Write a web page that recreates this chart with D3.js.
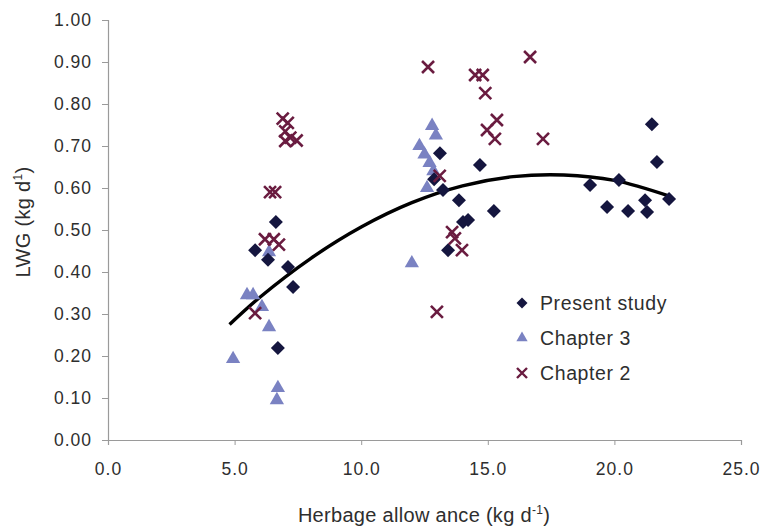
<!DOCTYPE html>
<html><head><meta charset="utf-8">
<script src="https://cdn.jsdelivr.net/npm/d3@7"></script>
<style>
html,body{margin:0;padding:0;background:#fff;}
svg{display:block;font-family:"Liberation Sans",Arial,Helvetica,sans-serif;}
</style></head>
<body>
<svg id="c" width="763" height="528"></svg>
<script>
// Present study (diamonds)
const presentX = [5.81,6.63,6.32,7.11,7.31,6.71,13.11,14.69,12.88,13.23,13.86,15.24,14.02,14.22,13.43,21.48,21.68,19.04,20.18,19.71,20.54,21.21,21.29,22.16];
const presentY = [0.452,0.519,0.429,0.412,0.364,0.219,0.683,0.655,0.621,0.595,0.571,0.545,0.519,0.524,0.452,0.752,0.662,0.607,0.619,0.555,0.545,0.571,0.543,0.574];
// Chapter 3 (triangles)
const ch3X = [5.49,5.73,6.08,6.36,4.94,6.71,6.67,6.36,12.8,12.95,12.3,12.5,12.7,12.85,12.6,12.0];
const ch3Y = [0.345,0.345,0.317,0.269,0.193,0.124,0.095,0.447,0.748,0.725,0.700,0.680,0.660,0.640,0.600,0.421];
// Chapter 2 (crosses)
const ch2X = [6.9,7.1,7.0,7.2,7.45,7.0,6.4,6.6,6.2,6.55,6.75,5.81,12.64,14.5,14.8,14.9,16.67,15.36,14.97,15.28,17.18,13.1,13.59,13.7,13.98,12.99];
const ch2Y = [0.765,0.755,0.735,0.72,0.713,0.712,0.59,0.59,0.478,0.478,0.465,0.302,0.888,0.869,0.869,0.826,0.912,0.762,0.738,0.717,0.717,0.629,0.495,0.48,0.452,0.305];
// Trend curve
const trendX = [4.8,6,8,10,12,14,16,18,20,22.2];
const trendY = [0.275,0.34,0.432,0.507,0.565,0.605,0.627,0.631,0.618,0.58];
// Ticks
const xTicks = [0,5,10,15,20,25];
const yTicks = [0,0.1,0.2,0.3,0.4,0.5,0.6,0.7,0.8,0.9,1.0];
const legendLabels = ["Present study","Chapter 3","Chapter 2"];

const colDiamond = "#15163f", colTri = "#7a82c2", colCross = "#6a1c40";
const svg = d3.select("#c");
const x = d3.scaleLinear().domain([0,25]).range([108,741]);
const y = d3.scaleLinear().domain([0,1]).range([440,20]);
const textCol = "#2e2e2e";

// axes
const ya = svg.append("g").attr("transform","translate(108,0)")
  .call(d3.axisLeft(y).tickValues(yTicks).tickFormat(d3.format(".2f")).tickSize(6).tickPadding(10));
const xa = svg.append("g").attr("transform","translate(0,440)")
  .call(d3.axisBottom(x).tickValues(xTicks).tickFormat(d3.format(".1f")).tickSize(5).tickPadding(18));
[ya,xa].forEach(a=>{
  a.select(".domain").attr("stroke","#9a9a9a").attr("stroke-width",1.2);
  a.selectAll(".tick line").attr("stroke","#9a9a9a");
  a.selectAll(".tick text").attr("fill",textCol).attr("font-size",17.5).attr("letter-spacing","1px")
   .attr("font-family","'Liberation Sans',Arial,sans-serif");
});

// trend
svg.append("path")
  .datum(trendX.map((v,i)=>[v,trendY[i]]))
  .attr("d",d3.line().x(d=>x(d[0])).y(d=>y(d[1])).curve(d3.curveCatmullRom))
  .attr("fill","none").attr("stroke","#000").attr("stroke-width",3.4);

// markers
const diamondPath = "M0,-7L7,0L0,7L-7,0Z";
const tri = d3.symbol().type(d3.symbolTriangle).size(88);
svg.append("g").selectAll("path").data(ch3X.map((v,i)=>[v,ch3Y[i]])).join("path")
  .attr("d",tri).attr("fill",colTri).attr("transform",d=>`translate(${x(d[0])},${y(d[1])})`);
svg.append("g").selectAll("path").data(presentX.map((v,i)=>[v,presentY[i]])).join("path")
  .attr("d",diamondPath).attr("fill",colDiamond).attr("transform",d=>`translate(${x(d[0])},${y(d[1])})`);
svg.append("g").selectAll("path").data(ch2X.map((v,i)=>[v,ch2Y[i]])).join("path")
  .attr("d","M-6,-6L6,6M-6,6L6,-6").attr("stroke",colCross).attr("stroke-width",2.6).attr("fill","none")
  .attr("transform",d=>`translate(${x(d[0])},${y(d[1])})`);

// legend
const lg = svg.append("g").attr("transform","translate(522,303)");
legendLabels.forEach((t,i)=>{
  const r = lg.append("g").attr("transform",`translate(0,${i*35})`);
  if(i===0) r.append("path").attr("d","M0,-5.5L5.5,0L0,5.5L-5.5,0Z").attr("fill",colDiamond);
  if(i===1) r.append("path").attr("d",d3.symbol().type(d3.symbolTriangle).size(55)).attr("fill",colTri);
  if(i===2) r.append("path").attr("d","M-5,-5L5,5M-5,5L5,-5").attr("stroke",colCross).attr("stroke-width",2.4);
  r.append("text").attr("x",18).attr("y",7).attr("font-size",19.5).attr("letter-spacing","0.6px").attr("fill",textCol).text(t);
});

// axis titles
const xt = svg.append("text").attr("x",424).attr("y",522).attr("text-anchor","middle")
  .attr("font-size",20).attr("letter-spacing","0.3px").attr("fill",textCol);
xt.append("tspan").text("Herbage allow ance (kg d");
xt.append("tspan").attr("dy",-8).attr("font-size",12).text("-1");
xt.append("tspan").attr("dy",8).text(")");
const yt = svg.append("text").attr("transform","translate(30,222) rotate(-90)").attr("text-anchor","middle")
  .attr("font-size",20).attr("letter-spacing","0.3px").attr("fill",textCol);
yt.append("tspan").text("LWG (kg d");
yt.append("tspan").attr("dy",-8).attr("font-size",12).text("1");
yt.append("tspan").attr("dy",8).text(")");
</script>
</body></html>
